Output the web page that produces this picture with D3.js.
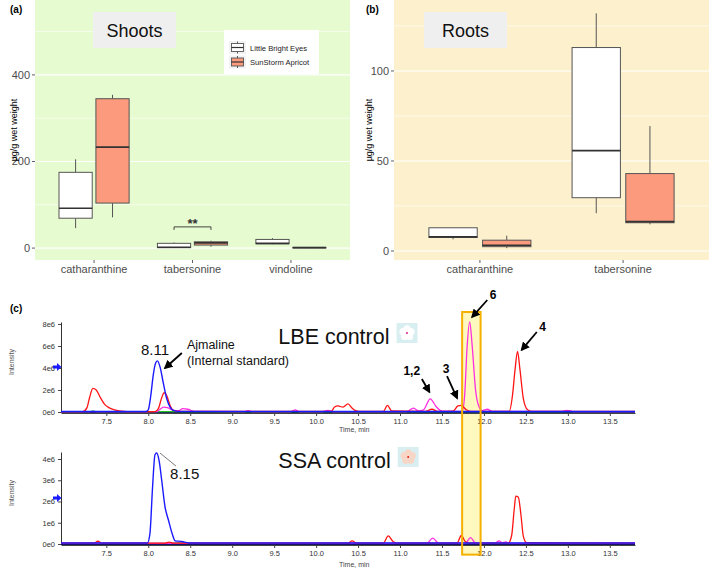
<!DOCTYPE html>
<html><head><meta charset="utf-8">
<script src="https://cdn.jsdelivr.net/npm/d3@7"></script>
<style>
body{margin:0;background:#fff}
svg{display:block}
text{font-family:"Liberation Sans",Arial,sans-serif}
</style>
</head><body>
<svg id="c" width="709" height="569"></svg>
<script>
// ---------------- DATA ----------------
const cultivars = ["Little Bright Eyes", "SunStorm Apricot"];
const shootCategories = ["catharanthine", "tabersonine", "vindoline"];
const rootCategories = ["catharanthine", "tabersonine"];
// box stats: [min, q1, median, q3, max]  (µg/g wet weight)
const shootsLBE = [[46, 69, 92, 175, 205], [0, 1, 2, 11, 13], [9, 10, 11, 20, 23]];
const shootsSSA = [[71, 104, 233, 345, 354], [3, 7, 12, 14.5, 17], [0, 0.5, 1, 1.5, 2]];
const rootsLBE = [[6.5, 7.5, 7.8, 12.9, 12.9], [21, 29.6, 55.7, 113, 132]];
const rootsSSA = [[1.6, 2.4, 3.2, 6, 8.5], [14.8, 15.7, 16.3, 43, 69.4]];
const shootTicks = [0, 200, 400];
const shootMinor = [100, 300, 500];
const rootTicks = [0, 50, 100];
const rootMinor = [25, 75, 125];

// chromatograms: [time (min), intensity (x1e6)]
const timeTicks = [7.5, 8.0, 8.5, 9.0, 9.5, 10.0, 10.5, 11.0, 11.5, 12.0, 12.5, 13.0, 13.5];
const lbeTicks = [0, 2, 4, 6, 8];
const lbeTickLabels = ["0e0", "2e6", "4e6", "6e6", "8e6"];
const ssaTicks = [0, 1, 2, 3, 4];
const ssaTickLabels = ["0e0", "1e6", "2e6", "3e6", "4e6"];

const lbeRed = [[6.96,0.04],[7.22,0.04],[7.27,0.4],[7.3,1.3],[7.34,2.15],[7.38,2.0],[7.43,1.3],[7.48,0.7],[7.53,0.4],[7.6,0.2],[7.68,0.08],[7.75,0.04],[8.08,0.04],[8.12,0.3],[8.16,1.3],[8.19,1.75],[8.22,1.5],[8.26,0.6],[8.3,0.15],[8.36,0.05],[10.18,0.05],[10.22,0.45],[10.26,0.55],[10.32,0.45],[10.38,0.73],[10.43,0.35],[10.48,0.1],[10.55,0.05],[10.8,0.05],[10.85,0.6],[10.9,0.1],[11.3,0.06],[11.38,0.25],[11.45,0.05],[11.63,0.08],[11.69,0.55],[11.73,0.6],[11.79,0.2],[11.85,0.05],[12.3,0.05],[12.34,1.5],[12.37,3.8],[12.4,5.5],[12.43,3.8],[12.47,1.2],[12.52,0.2],[12.57,0.05],[13.8,0.05]];
const lbeBlue = [[6.96,0.04],[7.97,0.04],[8.0,0.2],[8.03,1.5],[8.06,3.4],[8.09,4.5],[8.11,4.65],[8.14,4.1],[8.18,2.6],[8.22,1.2],[8.26,0.45],[8.3,0.15],[8.36,0.06],[13.8,0.04]];
const lbeMagenta = [[6.96,0.03],[8.1,0.03],[8.14,0.25],[8.18,0.45],[8.23,0.4],[8.3,0.15],[8.36,0.12],[8.41,0.3],[8.47,0.25],[8.55,0.06],[9.15,0.04],[9.19,0.12],[9.23,0.04],[9.7,0.04],[9.75,0.2],[9.8,0.04],[10.08,0.04],[10.14,0.15],[10.2,0.04],[11.08,0.04],[11.16,0.35],[11.22,0.1],[11.28,0.2],[11.36,1.2],[11.43,0.5],[11.5,0.08],[11.74,0.05],[11.77,1.5],[11.8,6.0],[11.83,8.2],[11.86,6.0],[11.9,2.0],[11.94,0.5],[11.98,0.12],[12.04,0.25],[12.1,0.05],[12.92,0.05],[12.99,0.15],[13.06,0.04],[13.8,0.04]];
const lbeGreen = [[6.96,0.03],[7.3,0.03],[7.34,0.1],[7.38,0.03],[13.8,0.03]];
const baseline = [[6.96,0.0],[13.8,0.0]];

const ssaRed = [[6.96,0.04],[7.35,0.04],[7.4,0.13],[7.45,0.04],[8.2,0.04],[8.25,0.09],[8.3,0.04],[10.38,0.04],[10.43,0.15],[10.48,0.04],[10.8,0.04],[10.86,0.38],[10.92,0.1],[10.98,0.04],[11.68,0.04],[11.73,0.4],[11.78,0.1],[11.83,0.04],[12.29,0.04],[12.33,0.4],[12.36,1.6],[12.38,2.25],[12.41,2.2],[12.44,1.4],[12.47,0.35],[12.51,0.06],[13.8,0.04]];
const ssaBlue = [[6.96,0.05],[7.99,0.05],[8.02,0.5],[8.05,2.6],[8.08,4.2],[8.1,4.28],[8.13,3.9],[8.16,3.0],[8.2,1.74],[8.24,1.13],[8.29,0.42],[8.32,0.15],[8.4,0.12],[8.48,0.05],[13.8,0.05]];
const ssaMagenta = [[6.96,0.03],[11.32,0.03],[11.39,0.28],[11.46,0.03],[11.78,0.04],[11.84,0.3],[11.9,0.04],[12.13,0.04],[12.18,0.15],[12.22,0.05],[12.26,0.1],[12.3,0.03],[13.8,0.03]];
const ssaGreen = [[6.96,0.03],[8.25,0.03],[8.35,0.07],[8.6,0.05],[8.7,0.03],[13.8,0.03]];

// ---------------- DRAW ----------------
const svg = d3.select("#c");
const AX = "#4d4d4d";

function boxPanel(cfg) {
  const g = svg.append("g");
  const x = d3.scaleBand().domain(cfg.categories).range([cfg.x0, cfg.x1]).paddingInner(0.25).paddingOuter(0.225);
  const xs = d3.scaleBand().domain(cultivars).range([0, x.bandwidth()]).paddingInner(0.1).paddingOuter(0.05);
  const y = d3.scaleLinear().domain(cfg.yDomain).range([cfg.y1, cfg.y0]);
  g.append("rect").attr("x", cfg.x0).attr("y", cfg.y0).attr("width", cfg.x1 - cfg.x0)
    .attr("height", cfg.y1 - cfg.y0).attr("fill", cfg.bg);
  g.selectAll(".mn").data(cfg.minor).join("line").attr("x1", cfg.x0).attr("x2", cfg.x1)
    .attr("y1", d => y(d)).attr("y2", d => y(d)).attr("stroke", "#fff").attr("stroke-width", 0.6);
  g.selectAll(".mj").data(cfg.ticks).join("line").attr("x1", cfg.x0).attr("x2", cfg.x1)
    .attr("y1", d => y(d)).attr("y2", d => y(d)).attr("stroke", "#fff").attr("stroke-width", 1.1);
  // boxes
  cultivars.forEach((cv, ci) => {
    cfg.series[ci].forEach((s, i) => {
      const left = x(cfg.categories[i]) + xs(cv);
      const cx = left + xs.bandwidth() / 2;
      const bg = g.append("g");
      bg.append("line").attr("x1", cx).attr("x2", cx).attr("y1", y(s[3])).attr("y2", y(s[4]))
        .attr("stroke", "#555").attr("stroke-width", 1);
      bg.append("line").attr("x1", cx).attr("x2", cx).attr("y1", y(s[1])).attr("y2", y(s[0]))
        .attr("stroke", "#555").attr("stroke-width", 1);
      bg.append("rect").attr("x", left).attr("width", xs.bandwidth())
        .attr("y", y(s[3])).attr("height", Math.max(0.5, y(s[1]) - y(s[3])))
        .attr("fill", ci === 0 ? "#ffffff" : "#fb9a7c").attr("stroke", "#555").attr("stroke-width", 1);
      bg.append("line").attr("x1", left).attr("x2", left + xs.bandwidth()).attr("y1", y(s[2])).attr("y2", y(s[2]))
        .attr("stroke", "#333").attr("stroke-width", 1.7);
    });
  });
  // y axis
  g.selectAll(".yt").data(cfg.ticks).join("line").attr("x1", cfg.x0 - 3).attr("x2", cfg.x0)
    .attr("y1", d => y(d)).attr("y2", d => y(d)).attr("stroke", "#333").attr("stroke-width", 0.8);
  g.selectAll(".yl").data(cfg.ticks).join("text").attr("x", cfg.x0 - 5).attr("y", d => y(d) + 4)
    .attr("text-anchor", "end").attr("font-size", 11).attr("fill", AX).text(d => d);
  // x axis
  g.selectAll(".xt").data(cfg.categories).join("line")
    .attr("x1", d => x(d) + x.bandwidth() / 2).attr("x2", d => x(d) + x.bandwidth() / 2)
    .attr("y1", cfg.y1).attr("y2", cfg.y1 + 3).attr("stroke", "#333").attr("stroke-width", 0.8);
  g.selectAll(".xl").data(cfg.categories).join("text")
    .attr("x", d => x(d) + x.bandwidth() / 2).attr("y", cfg.y1 + 13)
    .attr("text-anchor", "middle").attr("font-size", 11).attr("fill", AX).text(d => d);
  // y label
  g.append("text").attr("transform", `translate(${cfg.ylabX},${(cfg.y0 + cfg.y1) / 2}) rotate(-90)`)
    .attr("text-anchor", "middle").attr("font-size", 9).attr("fill", "#000").text("µg/g wet weight");
  // title box
  g.append("rect").attr("x", cfg.title[1]).attr("y", 12).attr("width", 83).attr("height", 36).attr("fill", "#efefef");
  g.append("text").attr("x", cfg.title[1] + 41.5).attr("y", 36.5).attr("text-anchor", "middle")
    .attr("font-family", "Lato, 'Open Sans', sans-serif").attr("font-size", 18).attr("fill", "#111").text(cfg.title[0]);
  // panel letter
  g.append("text").attr("x", cfg.letterX).attr("y", 13).attr("font-size", 10).attr("font-weight", "bold").text(cfg.letter);
  return {x, xs, y, g};
}

const A = boxPanel({categories: shootCategories, series: [shootsLBE, shootsSSA], x0: 35, x1: 350, y0: 0, y1: 260,
  yDomain: [-27.5, 573], ticks: shootTicks, minor: shootMinor, bg: "#e6fbd0", ylabX: 17, title: ["Shoots", 93], letter: "(a)", letterX: 10});
const B = boxPanel({categories: rootCategories, series: [rootsLBE, rootsSSA], x0: 394, x1: 709, y0: 0, y1: 260,
  yDomain: [-5, 139.4], ticks: rootTicks, minor: rootMinor, bg: "#fdf0cd", ylabX: 372, title: ["Roots", 424], letter: "(b)", letterX: 366});

// significance bracket (shoots, tabersonine)
{
  const c = "tabersonine";
  const xa = A.x(c) + A.xs(cultivars[0]) + A.xs.bandwidth() / 2;
  const xb = A.x(c) + A.xs(cultivars[1]) + A.xs.bandwidth() / 2;
  const yb = A.y(49), yt = A.y(42);
  A.g.append("path").attr("d", `M${xa},${yt}V${yb}H${xb}V${yt}`).attr("fill", "none").attr("stroke", "#444").attr("stroke-width", 1);
  A.g.append("text").attr("x", (xa + xb) / 2).attr("y", yb + 1.5).attr("text-anchor", "middle")
    .attr("font-size", 13).attr("font-weight", "bold").attr("fill", "#333").text("**");
}
// legend (shoots)
{
  const lg = A.g.append("g");
  lg.append("rect").attr("x", 224).attr("y", 30).attr("width", 95).attr("height", 44).attr("fill", "#fff");
  cultivars.forEach((cv, i) => {
    const ky = 41 + i * 14.5;
    lg.append("rect").attr("x", 229).attr("y", ky).attr("width", 17).attr("height", 13).attr("fill", "#f2f2f2");
    lg.append("line").attr("x1", 237.5).attr("x2", 237.5).attr("y1", ky + 0.5).attr("y2", ky + 12.5).attr("stroke", "#555");
    lg.append("rect").attr("x", 231.5).attr("y", ky + 2.5).attr("width", 12).attr("height", 8)
      .attr("fill", i === 0 ? "#fff" : "#fb9a7c").attr("stroke", "#555").attr("stroke-width", 0.9);
    lg.append("line").attr("x1", 231.5).attr("x2", 243.5).attr("y1", ky + 6.5).attr("y2", ky + 6.5).attr("stroke", "#333").attr("stroke-width", 1.2);
    lg.append("text").attr("x", 250).attr("y", ky + 9.5).attr("font-size", 7.6).attr("fill", "#222").text(cv);
  });
}

// ---------------- CHROMATOGRAMS ----------------
svg.append("text").attr("x", 10).attr("y", 312).attr("font-size", 10).attr("font-weight", "bold").text("(c)");

const cx = d3.scaleLinear().domain([6.96, 13.8]).range([61, 635]);
const yTop = d3.scaleLinear().domain([0, 8.18]).range([412, 322]);
const yBot = d3.scaleLinear().domain([0, 4.33]).range([544, 452]);

// highlight fill (behind traces)
const hl = {t0: 11.74, t1: 11.96};
svg.append("rect").attr("x", cx(hl.t0)).attr("width", cx(hl.t1) - cx(hl.t0))
  .attr("y", yTop(9.09)).attr("height", yBot(-0.5) - yTop(9.09)).attr("fill", "#fff8b8").attr("opacity", 0.9);

function chromAxes(y, ticks, labels, timeLabelY, intensityY) {
  const g = svg.append("g");
  const ax = g.append("g").attr("transform", `translate(0,${y(0) + 1})`)
    .call(d3.axisBottom(cx).tickValues(timeTicks).tickFormat(d3.format(".1f")).tickSize(3).tickSizeOuter(0));
  ax.select(".domain").attr("stroke", "#444");
  ax.selectAll(".tick line").attr("stroke", "#444");
  ax.selectAll("text").attr("font-size", 7.5).attr("fill", "#333").attr("font-family", "'Liberation Sans',Arial,sans-serif").attr("dy", "0.7em");
  const ay = g.append("g").attr("transform", `translate(61,0)`)
    .call(d3.axisLeft(y).tickValues(ticks).tickFormat((d, i) => labels[i]).tickSize(3).tickSizeOuter(0));
  ay.select(".domain").attr("stroke", "#333");
  ay.selectAll(".tick line").attr("stroke", "#444");
  ay.selectAll("text").attr("font-size", 7.5).attr("fill", "#333").attr("font-family", "'Liberation Sans',Arial,sans-serif");
  g.append("text").attr("x", 339).attr("y", timeLabelY).attr("font-size", 7).attr("fill", "#444").text("Time, min");
  g.append("text").attr("transform", `translate(14,${intensityY}) rotate(-90)`).attr("text-anchor", "middle")
    .attr("font-size", 7).attr("fill", "#555").text("Intensity");
}
chromAxes(yTop, lbeTicks, lbeTickLabels, 432, 362);
chromAxes(yBot, ssaTicks, ssaTickLabels, 567, 493);

function traces(y, list) {
  const line = d3.line().x(d => cx(d[0])).y(d => y(d[1])).curve(d3.curveMonotoneX);
  list.forEach(([data, color, w]) => {
    svg.append("path").datum(data).attr("d", line).attr("fill", "none").attr("stroke", color)
      .attr("stroke-width", w).attr("stroke-linejoin", "round");
  });
}
traces(yTop, [[baseline, "#14146e", 2], [lbeGreen, "#20c020", 1.1], [lbeMagenta, "#ff2ee0", 1.3], [lbeRed, "#ff1414", 1.3], [lbeBlue, "#1a1aff", 1.4]]);
traces(yBot, [[baseline, "#14146e", 2], [ssaGreen, "#20b0a0", 1.1], [ssaMagenta, "#ff2ee0", 1.3], [ssaRed, "#ff1414", 1.3], [ssaBlue, "#1a1aff", 1.4]]);

// highlight outline
svg.append("rect").attr("x", cx(hl.t0)).attr("width", cx(hl.t1) - cx(hl.t0))
  .attr("y", yTop(9.09)).attr("height", yBot(-0.5) - yTop(9.09)).attr("fill", "none")
  .attr("stroke", "#f5b000").attr("stroke-width", 2);

// blue marker arrows on y axes
function yMarker(y, v) {
  const py = y(v);
  svg.append("path").attr("d", `M53,${py - 1.5}h4v-2.5l4.5,4l-4.5,4v-2.5h-4z`).attr("fill", "#1a1aff");
}
yMarker(yTop, 4.1);
yMarker(yBot, 2.16);

// arrows
const defs = svg.append("defs");
defs.append("marker").attr("id", "ah").attr("viewBox", "0 0 10 10").attr("refX", 8).attr("refY", 5)
  .attr("markerWidth", 9).attr("markerHeight", 9).attr("markerUnits", "userSpaceOnUse").attr("orient", "auto")
  .append("path").attr("d", "M0,0L10,5L0,10z").attr("fill", "#000");

const peakLabels = [
  {t: "6", at: [12.11, 10.27], from: [12.04, 10.18], to: [11.86, 8.64]},
  {t: "4", at: [12.70, 7.36], from: [12.63, 7.27], to: [12.45, 5.64]},
  {t: "1,2", at: [11.14, 3.36], from: [11.26, 3.0], to: [11.35, 1.82]},
  {t: "3", at: [11.55, 3.55], from: [11.56, 3.27], to: [11.68, 1.27]}
];
peakLabels.forEach(p => {
  svg.append("line").attr("x1", cx(p.from[0])).attr("y1", yTop(p.from[1])).attr("x2", cx(p.to[0])).attr("y2", yTop(p.to[1]))
    .attr("stroke", "#000").attr("stroke-width", 1.8).attr("marker-end", "url(#ah)");
  svg.append("text").attr("x", cx(p.at[0])).attr("y", yTop(p.at[1])).attr("text-anchor", "middle")
    .attr("font-family", "Lato, 'Open Sans', sans-serif").attr("font-weight", "bold").attr("font-size", 12).text(p.t);
});
// Ajmaline annotation
svg.append("line").attr("x1", cx(8.40)).attr("y1", yTop(5.36)).attr("x2", cx(8.20)).attr("y2", yTop(4.0))
  .attr("stroke", "#000").attr("stroke-width", 1.8).attr("marker-end", "url(#ah)");
svg.append("text").attr("x", cx(8.08)).attr("y", yTop(5.18)).attr("text-anchor", "middle").attr("font-size", 15).attr("fill", "#111").text("8.11");
svg.append("text").attr("x", cx(8.46)).attr("y", yTop(5.73)).attr("font-family", "Lato, 'Open Sans', sans-serif").attr("font-size", 12.5).attr("fill", "#111").text("Ajmaline");
svg.append("text").attr("x", cx(8.46)).attr("y", yTop(4.27)).attr("font-family", "Lato, 'Open Sans', sans-serif").attr("font-size", 12.5).attr("fill", "#111").text("(Internal standard)");
// 8.15 label
svg.append("line").attr("x1", cx(8.14)).attr("y1", yBot(4.28)).attr("x2", cx(8.33)).attr("y2", yBot(3.67)).attr("stroke", "#555").attr("stroke-width", 0.8);
svg.append("text").attr("x", cx(8.26)).attr("y", yBot(3.06)).attr("font-size", 15).attr("fill", "#111").text("8.15");

// sample titles with flower icons
function sampleTitle(t, px, py, iconBg, petal, dot) {
  const tx = svg.append("text").attr("x", px).attr("y", py).attr("font-family", "Lato, 'Open Sans', sans-serif")
    .attr("font-size", 21.5).attr("fill", "#111").text(t);
  const w = tx.node().getComputedTextLength();
  const ix = px + w + 7, iy = py - 21;
  svg.append("rect").attr("x", ix).attr("y", iy).attr("width", 21).attr("height", 20).attr("fill", iconBg);
  const c0 = [ix + 10.5, iy + 10];
  d3.range(5).forEach(k => {
    const a = -Math.PI / 2 + k * 2 * Math.PI / 5;
    svg.append("circle").attr("cx", c0[0] + 4.2 * Math.cos(a)).attr("cy", c0[1] + 4.2 * Math.sin(a)).attr("r", 3.6).attr("fill", petal);
  });
  svg.append("circle").attr("cx", c0[0]).attr("cy", c0[1]).attr("r", 3).attr("fill", petal);
  svg.append("circle").attr("cx", c0[0]).attr("cy", c0[1]).attr("r", 1).attr("fill", dot);
}
sampleTitle("LBE control", cx(9.55), yTop(6.18), "#d9eef0", "#ffffff", "#e0208a");
sampleTitle("SSA control", cx(9.55), yBot(3.58), "#d9eef0", "#f8d6c6", "#e02020");
</script>
</body></html>
